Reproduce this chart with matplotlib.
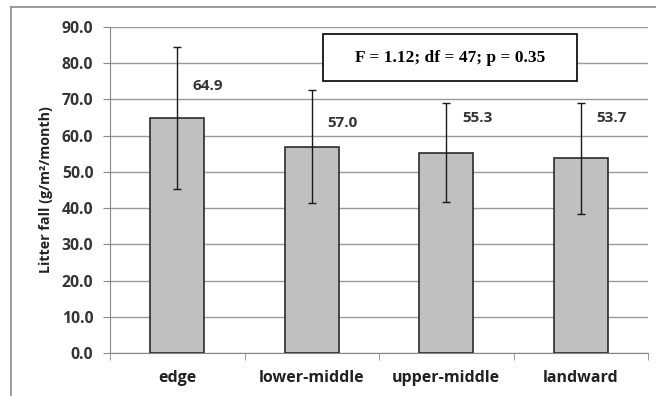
import numpy as np
import matplotlib.pyplot as plt
from matplotlib.lines import Line2D
from matplotlib.patches import Rectangle

sites = ['edge', 'lower-middle', 'upper-middle', 'landward']
litter_fall = [64.9, 57.0, 55.3, 53.7]
sd = [19.5, 15.5, 13.6, 15.2]
label_y = [73.8, 63.5, 64.9, 64.9]
stats_text = 'F = 1.12; df = 47; p = 0.35'

plt.rcParams['font.family'] = ['Open Sans', 'DejaVu Sans']

fig = plt.figure(figsize=(6.56, 3.96), dpi=100)
ax = fig.add_axes([0.1677, 0.1086, 0.8201, 0.8232])

x = np.arange(len(sites))
ax.bar(x, litter_fall, width=0.4, color='#c0c0c0', edgecolor='#2b2b2b',
       linewidth=1.2, zorder=3)
ax.errorbar(x, litter_fall, yerr=sd, fmt='none', ecolor='#1a1a1a',
            elinewidth=1.0, capsize=2.8, capthick=1.0, zorder=4)

for xi, v, ly in zip(x, litter_fall, label_y):
    ax.text(xi + 0.23, ly, f'{v:.1f}', ha='center', va='center',
            fontsize=11, fontweight='bold', color='#333333', zorder=5)

ax.set_xlim(-0.5, len(sites) - 0.5)
ax.set_ylim(0, 90)
ax.set_yticks(np.arange(0, 91, 10))
ax.set_yticklabels([f'{t:.1f}' for t in np.arange(0, 91, 10)],
                   fontsize=11.3, fontweight='bold', color='#333333')
ax.set_xticks(x)
ax.set_xticklabels(sites, fontsize=11.5, fontweight='bold', color='#222222')
ax.set_xticks(np.arange(-0.5, len(sites), 1), minor=True)
ax.tick_params(axis='x', which='major', length=0, pad=12)
ax.tick_params(axis='x', which='minor', length=5, color='#888888')
ax.tick_params(axis='y', length=5, color='#888888', pad=7)

ax.grid(axis='y', color='#9a9a9a', linewidth=1.0, zorder=0)
for s in ['top', 'right']:
    ax.spines[s].set_visible(False)
ax.spines['left'].set_color('#888888')
ax.spines['bottom'].set_color('#888888')

ax.set_ylabel('Litter fall (g/m²/month)', fontsize=10.3, fontweight='bold',
              color='#222222')
ax.yaxis.set_label_coords(-0.106, 0.5)

ax.add_patch(Rectangle((0.396, 0.834), 0.472, 0.145, transform=ax.transAxes,
                       facecolor='white', edgecolor='black', linewidth=1.2,
                       zorder=6))
ax.text(0.632, 0.906, stats_text, transform=ax.transAxes, ha='center',
        va='center', fontsize=12.5, fontweight='bold',
        family='Liberation Serif', zorder=7)

# outer chart frame (clipped on right/bottom)
fig.add_artist(Line2D([11/656, 1], [1 - 7/396, 1 - 7/396],
                      color='#8a8a8a', linewidth=1.2))
fig.add_artist(Line2D([11/656, 11/656], [0, 1 - 7/396],
                      color='#8a8a8a', linewidth=1.2))

fig.savefig('out.png', dpi=100)
